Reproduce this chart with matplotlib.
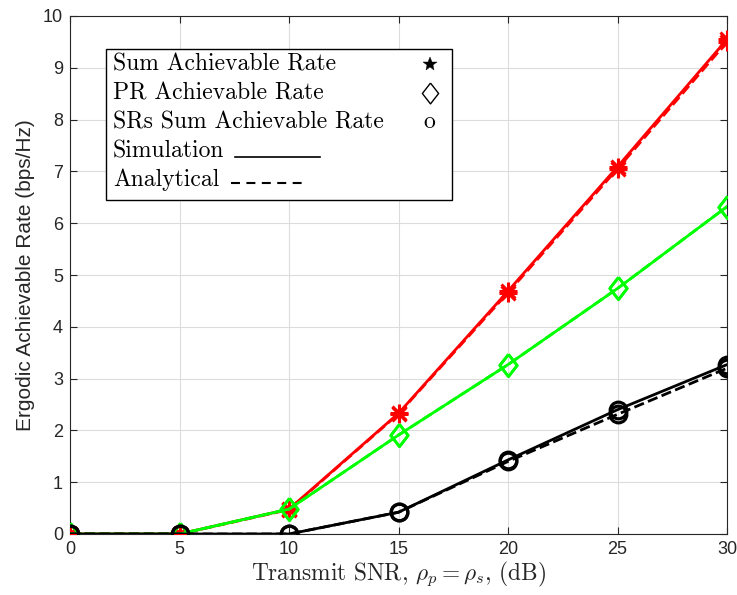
import matplotlib
matplotlib.use("Agg")
import matplotlib.pyplot as plt

plt.rcParams['mathtext.fontset'] = 'cm'
plt.rcParams['font.family'] = ['Liberation Sans', 'DejaVu Sans']

snr = [0, 5, 10, 15, 20, 25, 30]
sum_sim = [0.0, 0.0, 0.48, 2.33, 4.69, 7.09, 9.55]
sum_ana = [0.0, 0.0, 0.47, 2.32, 4.66, 7.05, 9.50]
pr_sim = [0.0, 0.0, 0.48, 1.91, 3.27, 4.74, 6.32]
pr_ana = [0.0, 0.0, 0.48, 1.91, 3.27, 4.74, 6.32]
sr_sim = [0.0, 0.0, 0.0, 0.42, 1.43, 2.40, 3.27]
sr_ana = [0.0, 0.0, 0.0, 0.42, 1.40, 2.31, 3.20]

xticks = [0, 5, 10, 15, 20, 25, 30]
yticks = list(range(0, 11))

legend_lines = ["Sum Achievable Rate", "PR Achievable Rate", "SRs Sum Achievable Rate",
                "Simulation", "Analytical"]

fig = plt.figure(figsize=(7.37, 5.95), dpi=100)
ax = fig.add_axes([70/737, 61/595, 657/737, 518/595])

red = '#ff0000'
green = '#00ff00'
diamond = [(0, 1), (0.78, 0), (0, -1), (-0.78, 0), (0, 1)]

for ys, ls in [(sum_sim, '-'), (sum_ana, '--')]:
    ax.plot(snr, ys, ls, color=red, lw=2, zorder=3)
    ax.plot(snr, ys, ls='none', color=red, marker='+', ms=13, mew=2.2, zorder=3)
    ax.plot(snr, ys, ls='none', color=red, marker='x', ms=9.5, mew=2.2, zorder=3)
for ys, ls in [(pr_sim, '-'), (pr_ana, '--')]:
    ax.plot(snr, ys, ls, color=green, lw=2, marker=diamond, ms=16, mfc='none', mew=2, zorder=4)
for ys, ls in [(sr_sim, '-'), (sr_ana, '--')]:
    ax.plot(snr, ys, ls, color='black', lw=2, marker='o', ms=12, mfc='none', mew=2.3, zorder=5)

ax.set_xlim(0, 30)
ax.set_ylim(0, 10)
ax.set_xticks(xticks)
ax.set_yticks(yticks)
ax.grid(True, color='#dcdcdc', lw=0.8)
ax.set_axisbelow(True)
ax.tick_params(direction='in', length=5, labelsize=13, colors='#262626', top=True, right=True,
               labeltop=False, labelright=False, pad=5)
for s in ax.spines.values():
    s.set_color('#262626')
    s.set_linewidth(0.8)

ax.set_ylabel('Ergodic Achievable Rate (bps/Hz)', fontsize=15, color='#262626', labelpad=6)
ax.set_xlabel(r'Transmit SNR, $\rho_p = \rho_s$, (dB)', fontsize=16.8, family='cmr10',
              color='#262626', labelpad=1)

# custom legend box
from matplotlib.patches import Rectangle
def px(x, y):
    return (x / 737, 1 - y / 595)
bx0, by0 = px(106, 200)
bx1, by1 = px(452, 49)
fig.patches.append(Rectangle((bx0, by0), bx1 - bx0, by1 - by0, transform=fig.transFigure,
                             fill=True, facecolor='white', edgecolor='black', lw=1.0, zorder=10))
ys_leg = [64, 93, 122, 151, 180]
for t, yy in zip(legend_lines, ys_leg):
    fig.text(*px(113, yy), t, family='cmr10', fontsize=17, va='center', ha='left', zorder=11)
mstyle = [dict(marker='*', ms=10, mfc='black', mec='black', mew=0.3),
          dict(marker=diamond, ms=15, mfc='none', mec='black', mew=1.0)]
for st, yy in zip(mstyle, [64, 93]):
    xx, yf = px(430, yy)
    fig.add_artist(plt.Line2D([xx], [yf], ls='none', transform=fig.transFigure, zorder=11, **st))
fig.text(*px(429, 122), 'o', family='cmr10', fontsize=17, va='center', ha='center', zorder=11)
fig.add_artist(plt.Line2D([235/737, 320/737], [1 - 157/595, 1 - 157/595], color='black', lw=1.2,
                          transform=fig.transFigure, zorder=11))
fig.add_artist(plt.Line2D([231/737, 302/737], [1 - 183/595, 1 - 183/595], color='black', lw=1.5,
                          ls=(0, (4.3, 3.1)), transform=fig.transFigure, zorder=11))

fig.savefig('out.png', dpi=100)
